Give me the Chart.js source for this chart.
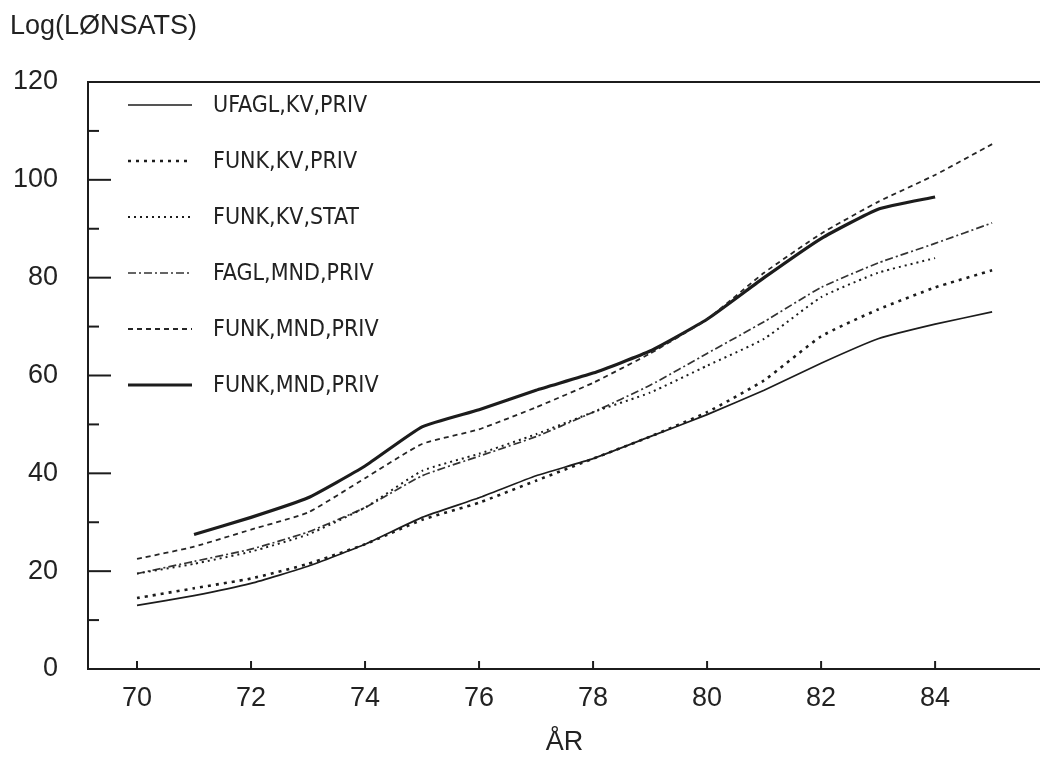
<!DOCTYPE html>
<html>
<head>
<meta charset="utf-8">
<script src="https://cdn.jsdelivr.net/npm/chart.js@4.4.1/dist/chart.umd.min.js"></script>
<style>
  body { margin: 0; background: #fff; }
  #wrap { width: 1040px; height: 760px; }
</style>
</head>
<body>
<div id="wrap"><canvas id="data" width="1040" height="760"></canvas></div>
<script>
// years (x) and the six wage series
const years = [70, 71, 72, 73, 74, 75, 76, 77, 78, 79, 80, 81, 82, 83, 84, 85];
const ufaglKvPriv   = [13, 15, 17.5, 21, 25.5, 31, 35, 39.5, 43, 47.5, 52, 57, 62.5, 67.5, 70.5, 73];
const funkKvPriv    = [14.5, 16.5, 18.5, 21.5, 25.5, 30.5, 34, 38.5, 43, 47.5, 52.5, 59, 68, 73.5, 78, 81.5];
const funkKvStat    = [19.5, 21.5, 24, 27.5, 33, 40.5, 44, 48, 52.5, 56.5, 62, 67.5, 76, 81, 84, null];
const faglMndPriv   = [19.5, 22, 24.5, 28, 33, 39.5, 43.5, 47.5, 52.5, 58, 64.5, 71, 78, 83, 87, 91.2];
const funkMndPrivD  = [22.5, 25, 28.5, 32, 39, 46, 49, 53.5, 58.5, 64.5, 71.5, 81, 89, 95.5, 101, 107.3];
const funkMndPrivS  = [null, 27.5, 31, 35, 41.5, 49.5, 53, 57, 60.5, 65, 71.5, 80, 88, 94, 96.5, null];
const seriesNames = ['UFAGL,KV,PRIV', 'FUNK,KV,PRIV', 'FUNK,KV,STAT', 'FAGL,MND,PRIV', 'FUNK,MND,PRIV', 'FUNK,MND,PRIV'];
const yTicks = [0, 20, 40, 60, 80, 100, 120];
const xTicks = [70, 72, 74, 76, 78, 80, 82, 84];

const ctx = document.getElementById('data').getContext('2d');
const INK = '#1c1c1c';

function pts(vals) {
    let out = [];
    for (let i = 0; i < years.length; i++) {
        if (vals[i] !== null) out.push({x: years[i], y: vals[i]});
    }
    return out;
}

function ds(label, vals, width, dash, color) {
    return {
        label: label,
        data: pts(vals),
        borderColor: color || INK,
        borderWidth: width,
        borderDash: dash,
        borderCapStyle: 'butt',
        pointRadius: 0,
        tension: 0.15,
        fill: false
    };
}

// legend, ticks, frame and titles drawn inside / around the chart area
const paperPlugin = {
    id: 'paper',
    afterDraw(chart) {
        const c = chart.ctx;
        const a = chart.chartArea;
        const xs = chart.scales.x;
        const ys = chart.scales.y;
        c.save();
        c.strokeStyle = INK;
        c.lineWidth = 2;
        c.setLineDash([]);
        c.beginPath();
        c.moveTo(1040, a.top);
        c.lineTo(a.left, a.top);
        c.lineTo(a.left, a.bottom);
        c.lineTo(1040, a.bottom);
        c.stroke();

        // y ticks, major at 20s, minor at 10s, pointing inward
        for (let v = 10; v < 120; v += 10) {
            const py = ys.getPixelForValue(v);
            const len = v % 20 === 0 ? 23 : 11;
            c.beginPath();
            c.moveTo(a.left, py);
            c.lineTo(a.left + len, py);
            c.stroke();
        }
        // x ticks pointing up
        xTicks.forEach(t => {
            const px = xs.getPixelForValue(t);
            c.beginPath();
            c.moveTo(px, a.bottom);
            c.lineTo(px, a.bottom - 8);
            c.stroke();
        });

        // titles
        c.fillStyle = '#222';
        c.font = '27px "Liberation Sans", Arial, sans-serif';
        c.textBaseline = 'alphabetic';
        c.textAlign = 'left';
        c.fillText('Log(LØNSATS)', 10, 34);
        c.textAlign = 'center';
        c.fillText('ÅR', xs.getPixelForValue(77.5), 750);

        // legend
        c.textAlign = 'left';
        c.textBaseline = 'middle';
        c.font = '23px "Liberation Sans Narrow", "DejaVu Sans Condensed", sans-serif';
        chart.data.datasets.forEach((d, i) => {
            const yy = 105 + i * 56;
            c.strokeStyle = d.borderColor;
            c.lineWidth = d.borderWidth;
            c.setLineDash(d.borderDash || []);
            c.beginPath();
            c.moveTo(128, yy);
            c.lineTo(192, yy);
            c.stroke();
            c.setLineDash([]);
            c.fillText(d.label, 213, yy + 1);
        });
        c.restore();
    }
};

const myChart = new Chart(ctx, {
    type: 'line',
    data: {
        datasets: [
            ds(seriesNames[0], ufaglKvPriv, 1.7, []),
            ds(seriesNames[1], funkKvPriv, 2.6, [3, 5]),
            ds(seriesNames[2], funkKvStat, 2, [2, 4]),
            ds(seriesNames[3], faglMndPriv, 1.7, [8, 3, 2, 3], '#333'),
            ds(seriesNames[4], funkMndPrivD, 1.8, [5, 4], '#262626'),
            ds(seriesNames[5], funkMndPrivS, 3.2, [])
        ]
    },
    options: {
        responsive: false,
        animation: false,
        layout: { padding: { top: 82, right: 0, left: 0, bottom: 0 } },
        plugins: { legend: { display: false }, tooltip: { enabled: false } },
        scales: {
            x: {
                type: 'linear',
                min: 69.14,
                max: 85.84,
                afterFit: s => { s.height = 91; },
                afterBuildTicks: s => { s.ticks = xTicks.map(v => ({value: v})); },
                grid: { display: false },
                border: { display: false },
                ticks: {
                    padding: 5,
                    color: '#222',
                    font: { family: '"Liberation Sans", Arial, sans-serif', size: 27 },
                    maxRotation: 0
                }
            },
            y: {
                min: 0,
                max: 120,
                afterFit: s => { s.width = 88; },
                afterBuildTicks: s => { s.ticks = yTicks.map(v => ({value: v})); },
                grid: { display: false },
                border: { display: false },
                ticks: {
                    padding: 22,
                    color: '#222',
                    font: { family: '"Liberation Sans", Arial, sans-serif', size: 27 }
                }
            }
        }
    },
    plugins: [paperPlugin]
});
</script>
</body>
</html>
